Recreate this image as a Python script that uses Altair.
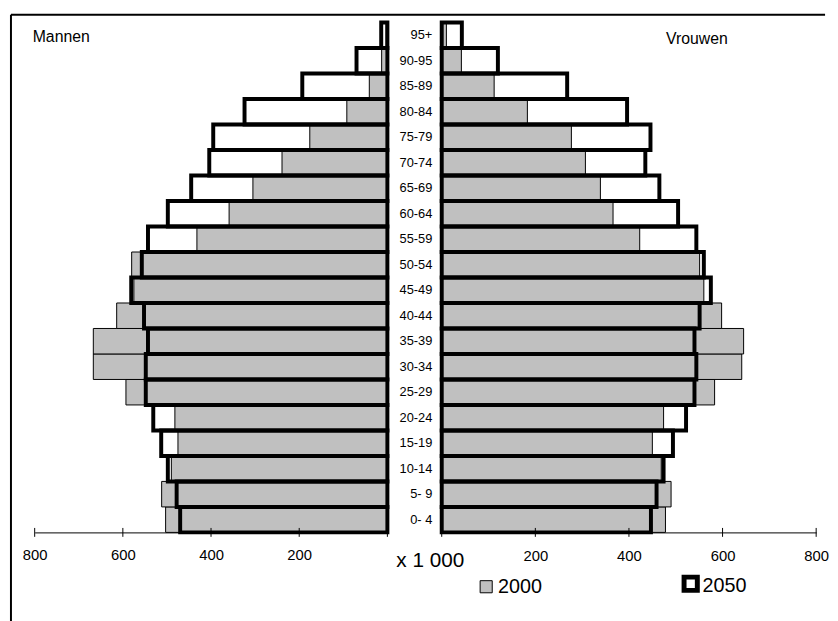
import altair as alt
import pandas as pd

# ---- data (x 1 000 persons) ----
ages = ["0- 4", "5- 9", "10-14", "15-19", "20-24", "25-29", "30-34", "35-39",
        "40-44", "45-49", "50-54", "55-59", "60-64", "65-69", "70-74", "75-79",
        "80-84", "85-89", "90-95", "95+"]
men_2000 = [503, 512, 490, 475, 482, 593, 667, 667, 614, 575, 580, 432, 359, 305, 239, 176, 92, 41, 13, 3]
men_2050 = [470, 478, 498, 513, 531, 548, 548, 543, 552, 581, 557, 543, 498, 445, 404, 395, 324, 193, 70, 14]
women_2000 = [478, 490, 469, 450, 474, 583, 641, 645, 598, 560, 551, 423, 366, 339, 307, 277, 183, 112, 42, 10]
women_2050 = [447, 459, 474, 494, 522, 540, 544, 540, 551, 575, 560, 544, 505, 465, 435, 446, 396, 268, 120, 43]
tick_values = [0, 200, 400, 600, 800]
label_values = [200, 400, 600, 800]
series = ["2000", "2050"]
panel_titles = ["Mannen", "Vrouwen"]
unit_text = "x 1 000"

FONT = "Liberation Sans"
GRAY = "#c0c0c0"
W_L, W_R, H = 357, 379, 516
age_order = ages[::-1]


def panel(v2000, v2050, width, reverse, label_padding, show_age_axis):
    df = pd.DataFrame({"age": ages, "v2000": v2000, "v2050": v2050})
    xs = alt.Scale(domain=[0, 800], reverse=reverse, nice=False, zero=True)
    xaxis = alt.Axis(values=label_values, ticks=False, domain=True, domainColor="black",
                     domainWidth=1, grid=False, title=None, labelFont=FONT, labelFontSize=15,
                     labelColor="black", labelPadding=label_padding, labelFlush=False,
                     labelOverlap=False)
    if show_age_axis:
        yaxis = alt.Axis(orient="left", ticks=False, tickSize=0, domain=False, grid=False,
                         title=None, labelFont=FONT, labelFontSize=13, labelColor="black",
                         labelPadding=10)
    else:
        yaxis = None
    ys = alt.Scale(paddingInner=0, paddingOuter=0)
    y = alt.Y("age:N", sort=age_order, scale=ys, axis=yaxis)
    base = alt.Chart(df)
    white = base.mark_bar(fill="white", strokeWidth=0).encode(
        x=alt.X("v2050:Q", scale=xs, axis=xaxis), y=y)
    gray = base.mark_bar(fill=GRAY, stroke="black", strokeWidth=1).encode(
        x=alt.X("v2000:Q", scale=xs, axis=xaxis), y=y)
    outline = base.mark_bar(fill="white", fillOpacity=0, stroke="black", strokeWidth=4).encode(
        x=alt.X("v2050:Q", scale=xs, axis=xaxis), y=y)
    tdf = pd.DataFrame({"t": tick_values})
    ticks = alt.Chart(tdf).mark_rule(color="black", strokeWidth=1).encode(
        x=alt.X("t:Q", scale=xs, axis=xaxis), y=alt.value(H - 4.5), y2=alt.value(H + 4.5))
    return [white, gray, outline, ticks]


one = pd.DataFrame({"d": [0]})

left_layers = panel(men_2000, men_2050, W_L, True, 15, False)
left_layers += [
    alt.Chart(one).mark_text(text=panel_titles[0], align="left", baseline="middle",
                             font=FONT, fontSize=16, color="black").encode(
        x=alt.value(-2), y=alt.value(14.5)),
    # invisible anchor fixing the top-left corner of the drawing
    alt.Chart(one).mark_rule(color="white", strokeOpacity=0, opacity=0).encode(
        x=alt.value(-26), x2=alt.value(-20), y=alt.value(-10)),
    # frame
    alt.Chart(one).mark_rule(color="black", strokeWidth=2).encode(
        x=alt.value(-24), x2=alt.value(800), y=alt.value(-8)),
    alt.Chart(one).mark_rule(color="black", strokeWidth=2).encode(
        x=alt.value(-24), y=alt.value(-8), y2=alt.value(608)),
]
left = alt.layer(*left_layers).properties(width=W_L, height=H)

right_layers = panel(women_2000, women_2050, W_R, False, 16, True)
right_layers += [
    alt.Chart(one).mark_text(text=panel_titles[1], align="left", baseline="middle",
                             font=FONT, fontSize=16, color="black").encode(
        x=alt.value(227), y=alt.value(17)),
    alt.Chart(one).mark_text(text=unit_text, align="center", baseline="middle",
                             font=FONT, fontSize=21, color="black").encode(
        x=alt.value(-11.5), y=alt.value(H + 29)),
    alt.Chart(one).mark_point(shape="square", size=150, fill=GRAY, stroke="black",
                              strokeWidth=1, opacity=1, fillOpacity=1).encode(
        x=alt.value(45), y=alt.value(H + 55)),
    alt.Chart(one).mark_text(text=series[0], align="left", baseline="middle",
                             font=FONT, fontSize=20, color="black").encode(
        x=alt.value(57), y=alt.value(H + 55.5)),
    alt.Chart(one).mark_point(shape="square", size=180, fill="white", stroke="black",
                              strokeWidth=5, opacity=1, fillOpacity=1).encode(
        x=alt.value(252), y=alt.value(H + 52)),
    alt.Chart(one).mark_text(text=series[1], align="left", baseline="middle",
                             font=FONT, fontSize=20, color="black").encode(
        x=alt.value(264), y=alt.value(H + 54.5)),
]
right = alt.layer(*right_layers).properties(width=W_R, height=H)

chart = alt.hconcat(left, right, spacing=55, bounds="flush").properties(
    padding=0, background="white"
).configure_view(stroke="transparent")

chart.save("out.html", embed_options={"renderer": "svg", "actions": False})
